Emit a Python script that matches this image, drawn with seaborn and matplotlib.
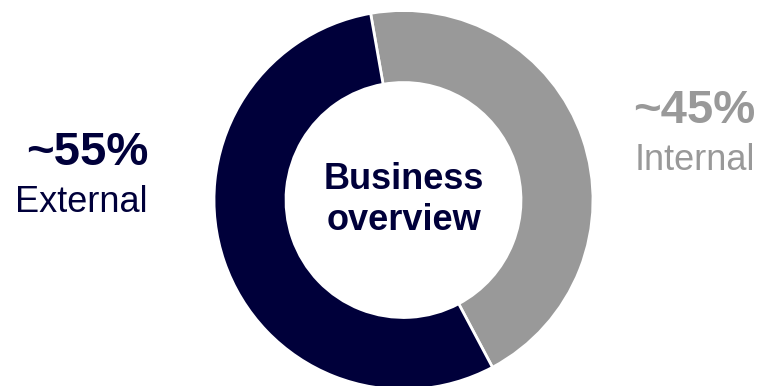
import matplotlib
matplotlib.use("Agg")
import matplotlib.pyplot as plt
import seaborn as sns

# Business split
segments = ["Internal", "External"]
shares = [45, 55]
share_labels = ["~45%", "~55%"]
center_title = "Business\noverview"

NAVY = "#00003a"
GREY = "#999999"

sns.set_theme(style="white")
plt.rcParams["font.family"] = ["Liberation Sans", "DejaVu Sans"]

W, H = 762, 386
fig = plt.figure(figsize=(W / 100, H / 100), dpi=100)
ax = fig.add_axes([0, 0, 1, 1])
ax.set_axis_off()

palette = sns.color_palette([GREY, NAVY])
ax.pie(
    shares,
    colors=palette,
    startangle=100,
    counterclock=False,
    radius=1.0,
    wedgeprops=dict(width=0.38, edgecolor="white", linewidth=2),
)

# donut centre and radius in pixels -> data limits
cx, cy, r = 403.5, 200.0, 189.5
ax.set_xlim(-cx / r, (W - cx) / r)
ax.set_ylim(-(H - cy) / r, cy / r)
ax.set_aspect("auto")


def fy(py):
    return 1 - py / H


def fx(px):
    return px / W


ax.text(0, 0.0, center_title, ha="center", va="center", fontsize=26,
        fontweight="bold", color=NAVY, linespacing=1.25)

# left label (External)
fig.text(fx(149), fy(165), share_labels[1], ha="right", va="baseline",
         fontsize=34, fontweight="bold", color=NAVY)
fig.text(fx(148), fy(212), segments[1], ha="right", va="baseline",
         fontsize=26, color=NAVY)

# right label (Internal)
fig.text(fx(755), fy(123), share_labels[0], ha="right", va="baseline",
         fontsize=34, fontweight="bold", color=GREY)
fig.text(fx(755), fy(170), segments[0], ha="right", va="baseline",
         fontsize=26, color=GREY)

fig.savefig("out.png", dpi=100, facecolor="white")
